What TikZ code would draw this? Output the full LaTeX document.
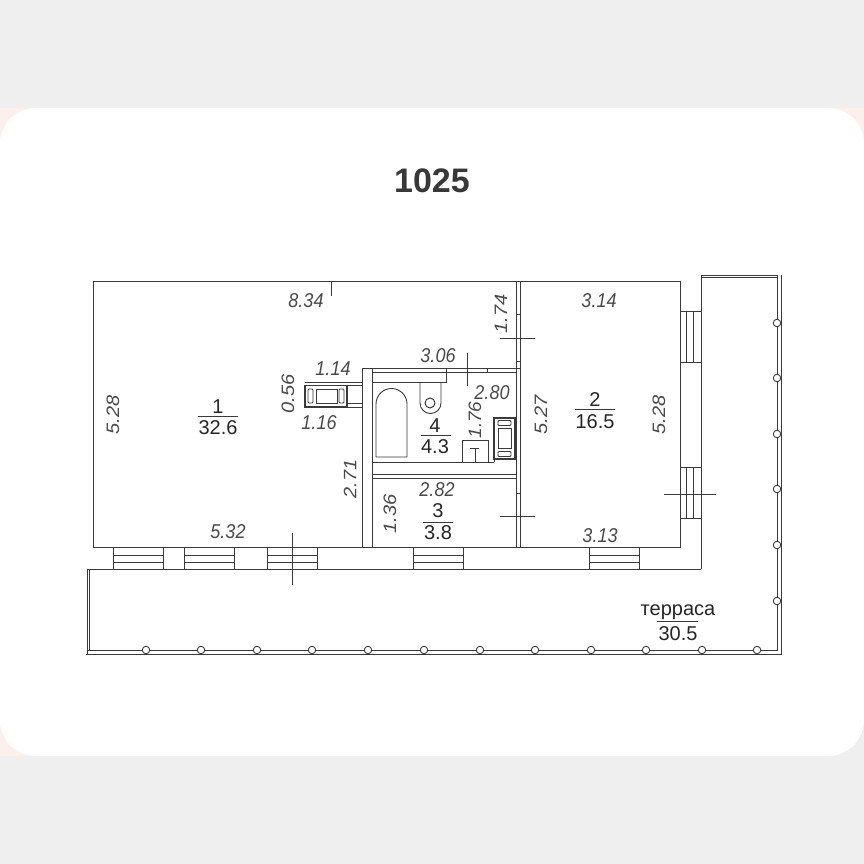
\documentclass[tikz,border=0pt]{standalone}
\usepackage{fontspec}
\setmainfont{Liberation Sans}
\definecolor{band}{HTML}{EFEFEF}
\definecolor{blush}{HTML}{FCF0EC}
\definecolor{ink}{HTML}{3A3A3A}
\definecolor{dimink}{HTML}{4A4A4A}
\tikzset{
  wall/.style={draw=ink,line width=.9pt},
  thinline/.style={draw=ink,line width=.75pt},
  post/.style={draw=ink,fill=white,line width=.9pt,circle,minimum size=7.5pt,inner sep=0pt},
  dim/.style={font=\fontsize{20}{20}\selectfont\itshape,text=dimink,inner sep=0pt,xscale=.9,transform shape},
  area/.style={font=\fontsize{20}{20}\selectfont,text=black!85,inner sep=0pt},
  rule/.style={draw=ink,line width=.9pt}
}
\newcommand{\windowH}[1]{\draw[wall] (#1,547) rectangle ++(50,22);\draw[thinline] (#1,555) -- ++(50,0) (#1,562) -- ++(50,0);}
\newcommand{\windowV}[1]{\draw[wall] (680,#1) rectangle ++(21,51);\draw[thinline] (686,#1) -- ++(0,51) (693,#1) -- ++(0,51);}
\begin{document}
\begin{tikzpicture}[x=1pt,y=-1pt]
\useasboundingbox (0,0) rectangle (864,864);
\fill[band] (0,0) rectangle (864,864);
\fill[blush] (0,108) rectangle (50,160);
\fill[blush] (0,705) rectangle (50,756);
\fill[blush] (814,108) rectangle (864,160);
\fill[white,rounded corners=36pt] (0,108) rectangle (864,756);
% title
\node[font=\bfseries\fontsize{34}{34}\selectfont,text=black!78] (title) at (432,181) {1025};
% outer walls
\draw[wall] (93,281) rectangle (680,547);
\draw[wall] (516,281) -- (516,547) (520.5,281) -- (520.5,547);
\draw[thinline] (516,314) -- (520.5,314) (516,361) -- (520.5,361) (516,493) -- (520.5,493);
% bathroom block
\draw[wall] (362,547) -- (362,368) -- (520,368);
\draw[wall] (372,547) -- (372,372) -- (516,372);
\draw[thinline] (372,368) -- (372,372) (446,368) -- (446,372) (487,368) -- (487,372);
\draw[wall] (372,382) -- (446,382) -- (446,372);
\draw[wall] (372,462) -- (494,462);
\draw[wall] (372,474) -- (516,474) (372,478) -- (516,478);
% stub with fixture
\draw[thinline] (305,382) -- (362,382) (305,385.5) -- (362,385.5) (347,403) -- (362,403) (347,407) -- (362,407);
\draw[line width=1.5pt,draw=ink] (305,385.5) rectangle (347,407);
\draw[thinline] (316,389) rectangle (337,403);
\draw[thinline,rounded corners=1pt] (308,389) rectangle (313,403) (339,389) rectangle (344,403);
% bath
\draw[wall] (376,457) -- (376,404) arc[start angle=180,end angle=360,radius=15.5] -- (407,457) -- cycle;
% toilet
\draw[wall] (420,382) -- (420,403) arc[start angle=180,end angle=0,radius=10.5] -- (441,382);
\node[draw=ink,line width=1pt,circle,minimum size=10pt,inner sep=0pt] (bowl) at (430,403) {};
% sink
\draw[wall] (462,440) rectangle (488,462);
\coordinate (teeL) at (470,448);\coordinate (teeR) at (479,448);\coordinate (teeM) at (475,448);\coordinate (teeB) at (475,462);
\draw[thinline] (teeL) -- (teeR) (teeM) -- (teeB);
% stove
\draw[line width=1.5pt,draw=ink] (494,418) rectangle (515,459);
\draw[thinline] (494,459) -- (494,462);
\draw[thinline] (498,428) rectangle (511,448);
\draw[thinline,rounded corners=1pt] (498,420.5) rectangle (511,425.5) (498,451.5) rectangle (511,456.5);
% terrace
\draw[wall] (701,569) -- (701,275) -- (777,275) -- (777,650) -- (87,650);
\draw[wall] (701,277.5) -- (777,277.5);
\draw[wall] (781,275) -- (781,654) -- (86,654);
\draw[wall] (701,569) -- (87,569) -- (87,654) (89.5,569) -- (89.5,650);
% windows
\windowH{113}\windowH{184}\windowH{267}\windowH{413}\windowH{589}
\windowV{311}\windowV{467}
% posts
\foreach \y in {323,378,434,489,545,601}{\node[post] at (777,\y) {};}
\foreach \x in {146,201,257,312,368,424,480,535,591,646,702,757}{\node[post] at (\x,650) {};}
% dimension ticks
\draw[thinline] (331,281) -- (331,296);
\draw[thinline] (500,338) -- (535,338);
\draw[thinline] (467,353) -- (467,386);
\draw[thinline] (500,516) -- (535,516);
\draw[thinline] (292,533) -- (292,585);
\draw[thinline] (664,494) -- (716,494);
% dimension labels
\node[dim] (d1) at (306,301) {8.34};
\node[dim] (d2) at (599,301) {3.14};
\node[dim,rotate=90] (d3) at (113,415) {5.28};
\node[dim,rotate=90] (d4) at (501,314) {1.74};
\node[dim,rotate=90] (d5) at (659,415) {5.28};
\node[dim,rotate=90] (d6) at (541,415) {5.27};
\node[dim,rotate=90] (d7) at (288,394) {0.56};
\node[dim] (d8) at (333,369) {1.14};
\node[dim] (d9) at (319,423) {1.16};
\node[dim] (d10) at (438,356) {3.06};
\node[dim] (d11) at (492,393) {2.80};
\node[dim,rotate=90,xscale=.95] (d12) at (475,420) {1.76};
\node[dim,rotate=90] (d13) at (350,479) {2.71};
\node[dim,rotate=90] (d14) at (390,514) {1.36};
\node[dim] (d15) at (437,490) {2.82};
\node[dim] (d16) at (228,532) {5.32};
\node[dim] (d17) at (600,536) {3.13};
% room areas
\node[area] (r1a) at (218,407) {1};
\draw[rule] (198,416) -- (238,416);
\node[area] (r1b) at (218,428) {32.6};
\node[area] (r2a) at (595,400) {2};
\draw[rule] (575,409.5) -- (615,409.5);
\node[area] (r2b) at (595,422) {16.5};
\node[area] (r4a) at (435,426) {4};
\draw[rule] (421,435) -- (451,435);
\node[area] (r4b) at (435,447) {4.3};
\node[area] (r3a) at (438,511) {3};
\draw[rule] (423,522) -- (453,522);
\node[area] (r3b) at (438,533) {3.8};
\node[area] (r5a) at (678,612) {терраса};
\draw[rule] (657,621) -- (698,621);
\node[area] (r5b) at (678,634) {30.5};
\end{tikzpicture}
\end{document}
